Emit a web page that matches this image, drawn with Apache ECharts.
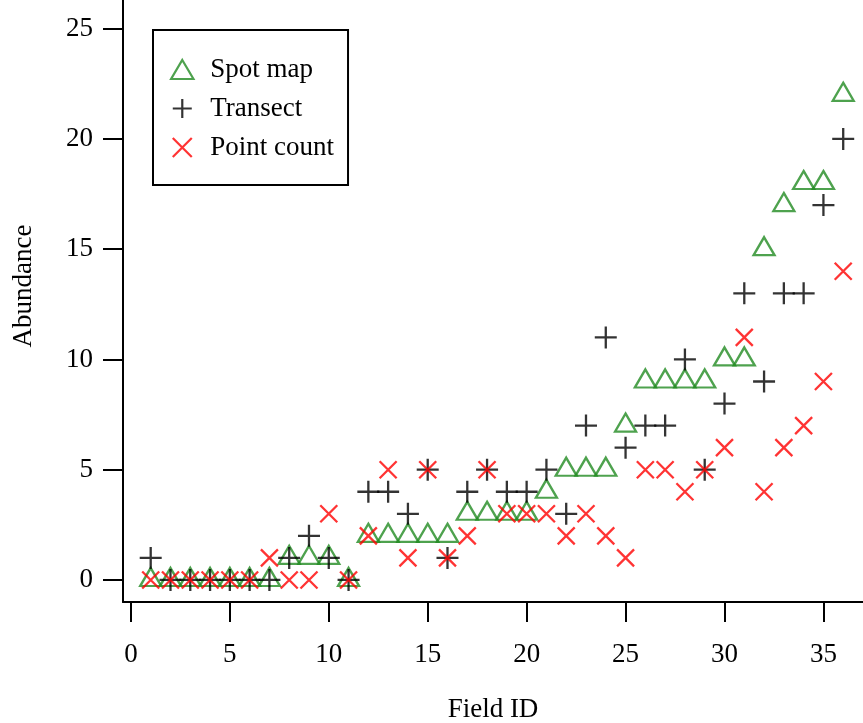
<!DOCTYPE html>
<html>
<head>
<meta charset="utf-8">
<title>Abundance by field</title>
<script src="https://cdn.jsdelivr.net/npm/echarts@6/dist/echarts.min.js"></script>
<style>
    html, body { margin: 0; padding: 0; background: #fff; }
    #main { width: 863px; height: 723px; }
</style>
</head>
<body>
<div id="main"></div>
<script>
// values, one per field
const fieldIds = [1, 2, 3, 4, 5, 6, 7, 8, 9, 10, 11, 12, 13, 14, 15, 16, 17, 18,
    19, 20, 21, 22, 23, 24, 25, 26, 27, 28, 29, 30, 31, 32, 33, 34, 35, 36];
const spotMap = [0, 0, 0, 0, 0, 0, 0, 1, 1, 1, 0, 2, 2, 2, 2, 2, 3, 3,
    3, 3, 4, 5, 5, 5, 7, 9, 9, 9, 9, 10, 10, 15, 17, 18, 18, 22];
const transect = [1, 0, 0, 0, 0, 0, 0, 1, 2, 1, 0, 4, 4, 3, 5, 1, 4, 5,
    4, 4, 5, 3, 7, 11, 6, 7, 7, 10, 5, 8, 13, 9, 13, 13, 17, 20];
const pointCount = [0, 0, 0, 0, 0, 0, 1, 0, 0, 3, 0, 2, 5, 1, 5, 1, 2, 5,
    3, 3, 3, 2, 3, 2, 1, 5, 5, 4, 5, 6, 11, 4, 6, 7, 9, 14];
const xTicks = [0, 5, 10, 15, 20, 25, 30, 35];
const yTicks = [0, 5, 10, 15, 20, 25];

const font = "'Liberation Serif', 'Times New Roman', Times, serif";

function pairs(values) {
    return fieldIds.map((id, i) => [id, values[i]]);
}

let myChart = echarts.init(document.getElementById('main'));

let axisCommon = {
    type: 'value',
    axisLine: { show: true, onZero: false, lineStyle: { color: '#000', width: 2 } },
    splitLine: { show: false },
    nameTextStyle: { fontFamily: font, fontSize: 27, color: '#000' }
};

let option = {
    animation: false,
    backgroundColor: '#fff',
    // keep the plot box fixed, names may sit close to the edge
    grid: { left: 123, right: 0, top: 0, bottom: 121, outerBoundsMode: 'none' },
    legend: {
        orient: 'vertical',
        left: 153,
        top: 30,
        padding: [26, 14, 24, 17],
        itemGap: 12,
        itemWidth: 46,
        itemHeight: 19,
        borderColor: '#000',
        borderWidth: 2,
        selectedMode: false,
        itemStyle: { borderWidth: 2.2 },
        textStyle: { fontFamily: font, fontSize: 27, color: '#000' },
        data: ['Spot map', 'Transect', 'Point count']
    },
    xAxis: Object.assign({}, axisCommon, {
        min: -0.4,
        max: 37,
        name: 'Field ID',
        nameLocation: 'middle',
        nameGap: 94,
        axisTick: { show: true, length: 20, customValues: xTicks, lineStyle: { color: '#000', width: 2 } },
        axisLabel: { customValues: xTicks, margin: 39, fontFamily: font, fontSize: 27, color: '#000' }
    }),
    yAxis: Object.assign({}, axisCommon, {
        min: -1,
        max: 26.3,
        axisTick: { show: true, length: 20, customValues: yTicks, lineStyle: { color: '#000', width: 2 } },
        axisLabel: { customValues: yTicks, margin: 30, fontFamily: font, fontSize: 27, color: '#000' }
    }),
    graphic: [{
        type: 'text',
        x: 24,
        y: 286,
        rotation: Math.PI / 2,
        style: {
            text: 'Abundance',
            font: '27px ' + font,
            fill: '#000',
            align: 'center',
            verticalAlign: 'middle'
        }
    }],
    series: [
        {
            name: 'Spot map',
            type: 'scatter',
            data: pairs(spotMap),
            symbol: 'path://M10,0L20,17L0,17Z',
            symbolSize: [21, 18],
            symbolOffset: [0, -3],
            itemStyle: { color: 'transparent', borderColor: '#228B22', borderWidth: 2.3 },
            emphasis: { disabled: true }
        },
        {
            name: 'Transect',
            type: 'scatter',
            data: pairs(transect),
            symbol: 'path://M0,10L20,10M10,0L10,20',
            symbolSize: 22,
            itemStyle: { color: 'transparent', borderColor: '#000', borderWidth: 2.3 },
            emphasis: { disabled: true }
        },
        {
            name: 'Point count',
            type: 'scatter',
            data: pairs(pointCount),
            symbol: 'path://M0,0L10,10M10,0L0,10',
            symbolSize: 17,
            itemStyle: { color: 'transparent', borderColor: '#ff0000', borderWidth: 2.3 },
            emphasis: { disabled: true }
        }
    ]
};
myChart.setOption(option);
</script>
</body>
</html>
